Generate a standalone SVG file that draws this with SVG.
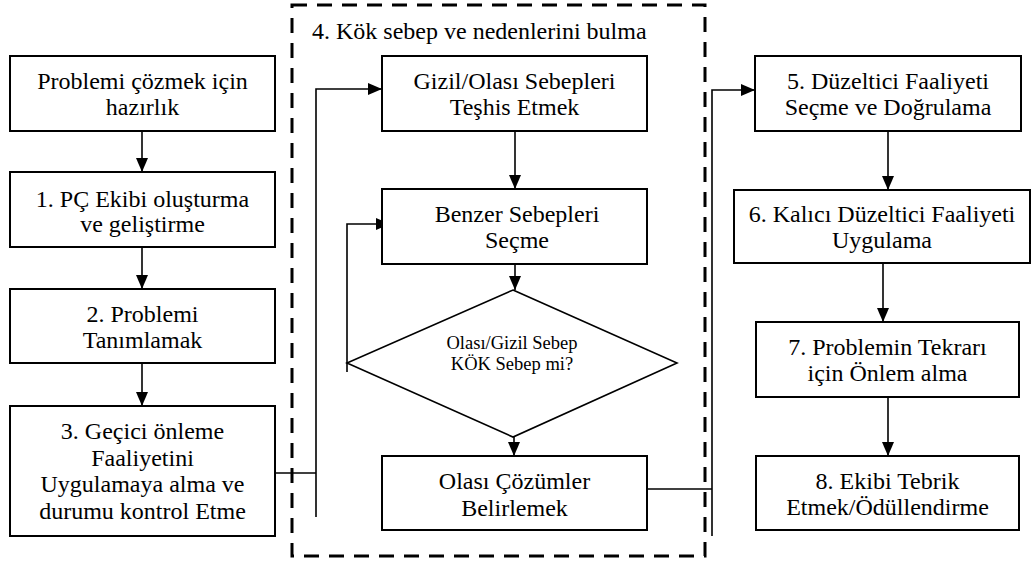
<svg xmlns="http://www.w3.org/2000/svg" width="1034" height="563" viewBox="0 0 1034 563">
<defs>
<marker id="ah" markerUnits="userSpaceOnUse" markerWidth="14" markerHeight="12" refX="14" refY="6" orient="auto">
<path d="M0,0 L14,6 L0,12 z" fill="#000"/>
</marker>
<style>
.box{fill:#fff;stroke:#000;stroke-width:2}
.c{fill:none;stroke:#000;stroke-width:1.6}
.ca{fill:none;stroke:#000;stroke-width:1.6;marker-end:url(#ah)}
.frame{fill:none;stroke:#000;stroke-width:3;stroke-dasharray:15 10}
</style>
</defs>
<rect width="1034" height="563" fill="#fff"/>
<g font-family="Liberation Serif, Times New Roman, DejaVu Serif, serif" font-size="24" fill="#000" text-anchor="middle">
<g id="group4">
<rect class="frame" x="292" y="5" width="413" height="551"/>
<text x="312" y="39" text-anchor="start">4. Kök sebep ve nedenlerini bulma</text>
</g>
<g id="connectors">
<path class="ca" d="M142,123 V172"/>
<path class="ca" d="M142,240 V289"/>
<path class="ca" d="M142,357 V406"/>
<path class="c" d="M275,473 H316"/>
<path class="ca" d="M316,517 V89 H382"/>
<path class="ca" d="M515,123 V189"/>
<path class="ca" d="M515,256 V290"/>
<path class="ca" d="M514,423 V456"/>
<path class="ca" d="M347,372 V224 H390"/>
<path class="c" d="M647,489 H712"/>
<path class="ca" d="M712,536 V90 H755"/>
<path class="ca" d="M888,123 V190"/>
<path class="ca" d="M883,263 V322"/>
<path class="ca" d="M888,390 V456"/>
</g>
<g id="n0">
<rect class="box" x="10" y="56" width="265" height="75"/>
<text x="142.5" y="89">Problemi çözmek için</text>
<text x="142.5" y="115">hazırlık</text>
</g>
<g id="n1">
<rect class="box" x="10" y="172" width="265" height="75"/>
<text x="142.5" y="207">1. PÇ Ekibi oluşturma</text>
<text x="142.5" y="232">ve geliştirme</text>
</g>
<g id="n2">
<rect class="box" x="10" y="289" width="265" height="74"/>
<text x="142.5" y="322">2. Problemi</text>
<text x="142.5" y="348">Tanımlamak</text>
</g>
<g id="n3">
<rect class="box" x="10" y="406" width="265" height="130"/>
<text x="142.5" y="439">3. Geçici önleme</text>
<text x="142.5" y="466">Faaliyetini</text>
<text x="142.5" y="492">Uygulamaya alma ve</text>
<text x="142.5" y="519">durumu kontrol Etme</text>
</g>
<g id="n4a">
<rect class="box" x="382" y="56" width="265" height="75"/>
<text x="514.5" y="89">Gizil/Olası Sebepleri</text>
<text x="514.5" y="115">Teşhis Etmek</text>
</g>
<g id="n4b">
<rect class="box" x="382" y="189" width="265" height="75"/>
<text x="517" y="222">Benzer Sebepleri</text>
<text x="517" y="248">Seçme</text>
</g>
<g id="n4c">
<polygon points="513,290 677,363 513,437 347,363" fill="#fff" stroke="#000" stroke-width="1.6"/>
<text x="512" y="349" font-size="18.5">Olası/Gizil Sebep</text>
<text x="512" y="370" font-size="18.5">KÖK Sebep mi?</text>
</g>
<g id="n4d">
<rect class="box" x="382" y="456" width="265" height="74"/>
<text x="514.5" y="489">Olası Çözümler</text>
<text x="514.5" y="516">Belirlemek</text>
</g>
<g id="n5">
<rect class="box" x="755" y="56" width="266" height="75"/>
<text x="888" y="89">5. Düzeltici Faaliyeti</text>
<text x="888" y="115">Seçme ve Doğrulama</text>
</g>
<g id="n6">
<rect class="box" x="734" y="190" width="296" height="73"/>
<text x="882" y="222">6. Kalıcı Düzeltici Faaliyeti</text>
<text x="882" y="248">Uygulama</text>
</g>
<g id="n7">
<rect class="box" x="756" y="322" width="263" height="75"/>
<text x="887.5" y="355">7. Problemin Tekrarı</text>
<text x="887.5" y="381">için Önlem alma</text>
</g>
<g id="n8">
<rect class="box" x="756" y="456" width="263" height="74"/>
<text x="887.5" y="489">8. Ekibi Tebrik</text>
<text x="887.5" y="515">Etmek/Ödüllendirme</text>
</g>
</g>
</svg>
